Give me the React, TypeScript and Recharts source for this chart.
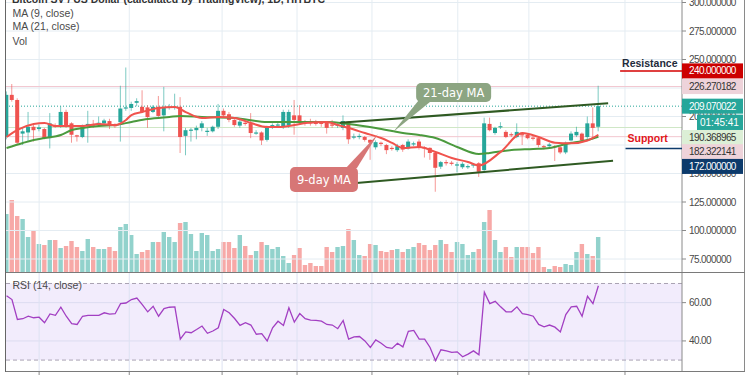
import React from "react";
import {
  ComposedChart,
  Bar,
  Line,
  XAxis,
  YAxis,
  ReferenceLine,
  ReferenceArea,
  ReferenceDot,
} from "recharts";

// BSV/USD daily candles
const opens = [
  182, 219, 214.5, 185, 186, 191, 189, 189, 181, 192.5, 191, 204, 194, 183.5, 182, 192.5, 193, 193, 194, 196,
  192.5, 195, 207, 207.5, 212, 208.5, 208, 204, 208.5, 201, 208, 207.5, 208.5, 183, 187.5, 188, 190, 186.5, 187, 191,
  205, 202, 197, 192, 194.5, 194, 185, 186, 179.5, 190, 192, 191, 192, 201, 201, 195, 195, 194.5, 194.5, 194.5,
  193, 192, 190, 195.5, 181.5, 182, 182, 179.5, 173, 177, 175, 172.5, 170.5, 175, 172, 175.5, 178, 173, 172.5, 168,
  156, 160, 159.5, 157, 155.5, 155.5, 157, 159, 153, 193.5, 185.5, 190.5, 186.5, 184.5, 182, 184.5, 184, 181.5, 181, 174,
  174, 174, 173, 168.5, 179, 183.5, 185, 182, 194, 191,
];
const highs = [
  222, 228.5, 216, 190, 204, 193, 193, 190, 203, 194, 209, 206, 195, 184, 193, 205, 197, 200, 198, 198,
  194, 227, 243, 213, 216, 223, 210, 210, 218, 226, 211, 220, 217, 190, 190, 192, 196, 190, 192, 211,
  207, 204, 198, 197, 196, 203, 188, 187, 192, 194, 195, 206, 206, 214.5, 210, 197, 198, 197, 196, 196,
  197, 194, 201, 196, 185, 185, 183, 180, 179, 178, 176, 174, 176, 176, 180, 178, 180, 174, 173, 169,
  161, 162, 161, 160, 160, 158, 159, 160, 199, 199, 191, 195, 188, 186, 194, 186, 185, 183, 182, 175,
  177, 175, 174, 178, 187, 191, 186, 200, 208, 227,
];
const lows = [
  180, 213, 175, 175, 178, 178, 187, 180, 172, 190, 190, 190, 177, 178, 181, 177, 190, 191, 192, 189,
  190, 178, 205, 205, 209, 203, 190, 203, 199, 187, 206, 206, 168, 166, 178, 180, 187, 183, 186, 189,
  199, 195, 191, 190, 192, 181, 184, 175, 178, 189, 191, 189, 190, 184, 193, 192, 192, 192, 191, 185,
  190, 190, 188, 176, 180, 180, 178, 162, 171, 174, 167, 170, 169, 169, 171, 174, 171, 164, 162, 134,
  154, 157, 157, 151, 154, 154, 155, 147, 151, 187, 184, 189, 181, 182, 181, 175, 180, 179, 173, 171,
  172, 161, 167, 167, 178, 182, 178, 180, 181, 187,
];
const closes = [
  219, 214.5, 177, 187, 191, 188, 190.5, 181, 194, 191, 204, 191, 184, 182.5, 192, 193.5, 192, 194.5, 196.5, 192.5,
  191.5, 207, 208, 211, 213.5, 204, 199.5, 208.5, 200.5, 208, 208.5, 208.5, 182, 188, 188.5, 190, 194, 187.5, 191, 205,
  201, 197, 192.5, 195.5, 193.5, 185.5, 186, 179, 190, 192.5, 193, 204, 204, 197, 195, 194, 194, 193.5, 193.5, 190,
  192, 193, 196, 180, 182.5, 183, 179.5, 177, 177.5, 176, 170.5, 171.5, 174, 171, 178, 176.5, 173, 172, 168, 155,
  160, 159, 158.5, 158, 158.5, 156.5, 158, 151.5, 194, 188, 190, 191.5, 182, 183.5, 186.5, 183.5, 181, 180.5, 175, 173,
  175.5, 173, 168.5, 177, 185, 186.5, 179, 194, 190, 209.07,
];
const volumes = [
  58, 72, 56, 53, 35, 42, 28, 27, 32, 32, 24, 26, 31, 25, 21, 33, 25, 23, 23, 25,
  21, 45, 48, 37, 18, 20, 22, 30, 30, 40, 35, 30, 49, 50, 38, 21, 39, 37, 21, 23,
  30, 30, 24, 37, 26, 17, 21, 30, 27, 23, 25, 16, 9, 17, 24, 7, 9, 6, 6, 25,
  20, 25, 26, 43, 32, 17, 16, 28, 27, 21, 20, 22, 23, 20, 23, 25, 29, 27, 22, 27,
  32, 28, 20, 30, 28, 17, 20, 23, 50, 62, 32, 20, 25, 15, 25, 25, 25, 19, 25, 5,
  3, 6, 5, 8, 7, 20, 28, 18, 16, 35,
];
const rsiValues = [
  63.6, 61.6, 51.2, 51.6, 52.9, 52.1, 52.4, 49.5, 54.1, 53.4, 57.6, 52.9, 49.0, 48.6, 52.9, 53.3, 53.3, 53.4, 54.7, 54.0,
  54.2, 59.5, 59.8, 61.6, 62.4, 59.0, 55.2, 58.1, 52.9, 56.9, 57.6, 57.8, 40.9, 44.7, 44.3, 46.0, 47.8, 44.0, 45.2, 46.9,
  56.4, 54.7, 51.7, 48.1, 49.5, 48.3, 43.5, 43.8, 40.0, 46.9, 50.3, 48.1, 57.3, 49.8, 54.3, 51.6, 50.9, 50.7, 50.3, 48.6,
  48.3, 46.4, 50.7, 40.9, 42.1, 42.3, 40.0, 36.6, 40.5, 38.8, 36.6, 36.1, 38.8, 36.9, 45.0, 45.5, 40.9, 40.9, 36.6, 29.7,
  35.4, 34.8, 34.0, 34.3, 31.7, 33.1, 34.8, 32.8, 65.5, 59.5, 60.7, 57.8, 55.2, 55.2, 57.8, 54.3, 53.8, 52.9, 48.6, 47.4,
  48.3, 47.2, 44.7, 53.8, 57.8, 58.1, 52.9, 63.3, 59.5, 68.8,
];
// moving averages, [candle index, value] where read
const ma9Points = [
  [0, 182], [2, 188.2], [5, 193.4], [7, 194.3], [9, 191.7], [11, 191.7], [14, 191.7], [17, 193.4], [20, 192.5],
  [22, 196.9], [23, 201.3], [25, 203.9], [28, 207.5], [31, 208.3], [33, 203.9], [36, 198.7], [39, 199.6], [42, 198.7],
  [45, 194.3], [48, 190.8], [50, 190.8], [53, 192.5], [55, 194.3], [59, 195.2], [61, 192.5], [63, 189.9], [66, 185.5],
  [69, 181.1], [71, 176.8], [73, 172.4], [76, 173.3], [79, 168.9], [82, 163.6], [85, 160.1], [87, 157], [91, 169],
  [95, 185.5], [98, 182], [101, 177], [104, 176.5], [107, 179], [109, 184],
];
const ma21Points = [
  [0, 172.4], [3, 176.8], [5, 179.4], [7, 181.1], [10, 183.8], [12, 188.2], [14, 189.9], [17, 191.7], [20, 192.5],
  [23, 195.2], [26, 197.8], [30, 199.6], [32, 200.4], [36, 199.6], [42, 198.7], [48, 195.2], [53, 195.2], [59, 195.2],
  [63, 193.4], [68, 189.9], [71, 187.3], [73, 185.5], [76, 183.8], [79, 181.1], [83, 173.3], [87, 167.1], [89, 168],
  [93, 170.6], [97, 171.5], [100, 172.4], [103, 175.9], [107, 179.4], [109, 182.3],
];

const priceTicks = [75, 100, 125, 150, 175, 200, 225, 250, 275, 300];
const rsiTicks = [40, 60];
const timeTicks = [6, 22.6, 39.7, 53.5, 67.3, 83.1, 96.2, 113.9];

const levels = [226.270182, 209.070022, 190.368965, 182.322141];
const priceTags = [
  { value: 240, bg: "#cc0000", fg: "#ffffff", shift: 0 },
  { value: 226.270182, bg: "#eed3da", fg: "#333333", shift: 0 },
  { value: 209.070022, bg: "#26a69a", fg: "#ffffff", shift: 0, timer: "01:45:41" },
  { value: 190.368965, bg: "#dcefd6", fg: "#333333", shift: 10 },
  { value: 182.322141, bg: "#eed3da", fg: "#333333", shift: 15 },
  { value: 172, bg: "#0c3a6b", fg: "#ffffff", shift: 18 },
];

const TEAL = "#26a69a";
const RED = "#ef5350";
const GRID = "#e4ecf2";
const AXIS = "#8a8a8a";
const TREND = "#2f5a22";
const FONT = "'Liberation Sans', Arial, sans-serif";

const X_DOMAIN = [-0.1, 124.4];
const P_DOMAIN = [63.6, 302.2];
const R_DOMAIN = [24.3, 76];

const rows = opens.map((o, i) => ({
  i,
  o,
  h: highs[i],
  l: lows[i],
  c: closes[i],
  vol: volumes[i],
  rsi: rsiValues[i],
  ma9: null as number | null,
  ma21: null as number | null,
}));
ma9Points.forEach(([i, v]) => (rows[i].ma9 = v));
ma21Points.forEach(([i, v]) => (rows[i].ma21 = v));

const Candle = (props: any) => {
  const { x, y, width, height, payload } = props;
  const { o, h, l, c } = payload;
  const top = Math.min(y, y + height);
  const span = Math.abs(height);
  const py = (v: number) => (h === l ? top : top + ((h - v) / (h - l)) * span);
  const cx = x + width / 2;
  const col = c >= o ? TEAL : RED;
  const bTop = py(Math.max(o, c));
  const bBot = py(Math.min(o, c));
  return (
    <g>
      <line x1={cx} x2={cx} y1={top} y2={top + span} stroke={col} strokeOpacity={0.6} />
      <rect x={cx - 2} y={bTop} width={4} height={Math.max(1.2, bBot - bTop)} fill={col} />
    </g>
  );
};

const VolBar = (props: any) => {
  const { x, y, width, height, payload } = props;
  const cx = x + width / 2;
  return (
    <rect
      x={cx - 2.2}
      y={y}
      width={4.4}
      height={height}
      fill={payload.c >= payload.o ? TEAL : RED}
      fillOpacity={0.5}
    />
  );
};

const AxisTick = ({ x, y, payload, digits }: any) => (
  <text x={x} y={y + 3.5} fontSize={10} fill="#4a4a4a" fontFamily={FONT} letterSpacing={-0.6} textAnchor="start">
    {payload.value.toFixed(digits)}
  </text>
);

const PriceTag = ({ viewBox, tag }: any) => {
  if (!viewBox) return null;
  const x = viewBox.x + viewBox.width;
  const cy = viewBox.y + tag.shift;
  return (
    <g>
      <rect x={x} y={cy - 7.5} width={61} height={15} fill={tag.bg} />
      <text x={x + 7} y={cy + 3.5} fontSize={10} fill={tag.fg} fontFamily={FONT} letterSpacing={-0.6}>
        {tag.value.toFixed(6)}
      </text>
      {tag.timer && (
        <g>
          <rect x={x + 15} y={cy + 8.5} width={46} height={16} fill={tag.bg} />
          <text x={x + 18} y={cy + 20} fontSize={10} fill={tag.fg} fontFamily={FONT}>
            {tag.timer}
          </text>
        </g>
      )}
    </g>
  );
};

const callouts = [
  { text: "21-day MA", at: [71.2, 186.4], fill: "#8ca582", box: [23, -49, 75, 19], base: [25, 38] },
  { text: "9-day MA", at: [68.4, 184.6], fill: "#d77676", box: [-88, 33, 68, 25], base: [-32, -21] },
];

const CalloutShape = ({ cx, cy, c }: any) => {
  if (cx == null) return null;
  const [dx, dy, w, h] = c.box;
  const edge = dy < 0 ? cy + dy + h - 1 : cy + dy + 1;
  return (
    <g>
      <polygon points={`${cx},${cy} ${cx + c.base[0]},${edge} ${cx + c.base[1]},${edge}`} fill={c.fill} />
      <rect x={cx + dx} y={cy + dy} width={w} height={h} rx={5} fill={c.fill} />
      <text
        x={cx + dx + w / 2}
        y={cy + dy + h / 2 + 4}
        textAnchor="middle"
        fontSize={11.5}
        fill="#ffffff"
        fontFamily="'DejaVu Sans', sans-serif"
      >
        {c.text}
      </text>
    </g>
  );
};

const LevelText = ({ viewBox, text, color, gap }: any) =>
  viewBox ? (
    <text x={viewBox.x + 2} y={viewBox.y - gap} fontSize={10.5} fontWeight="bold" fill={color} fontFamily={FONT}>
      {text}
    </text>
  ) : null;

export default function App() {
  return (
    <div
      style={{
        position: "absolute",
        left: 0,
        top: 0,
        width: 750,
        height: 375,
        overflow: "hidden",
        background: "#fff",
        fontFamily: FONT,
      }}
    >
      {/* grid, levels, volume */}
      <div style={{ position: "absolute", left: 0, top: 0 }}>
        <ComposedChart width={745} height={272} data={rows} margin={{ top: 0, right: 63, left: 6, bottom: 0 }}>
          <XAxis dataKey="i" type="number" domain={X_DOMAIN} hide allowDataOverflow />
          <YAxis domain={P_DOMAIN} hide allowDataOverflow />
          <YAxis yAxisId="v" domain={[0, 272]} hide allowDataOverflow />
          {priceTicks.map((t) => (
            <ReferenceLine key={"p" + t} y={t} stroke={GRID} />
          ))}
          {timeTicks.map((t) => (
            <ReferenceLine key={"t" + t} x={t} stroke={GRID} />
          ))}
          <ReferenceLine y={levels[0]} stroke="#f2c6cf" />
          <ReferenceLine y={levels[2]} stroke="#cfe7c6" />
          <ReferenceLine y={levels[3]} stroke="#f2c6cf" />
          <ReferenceLine y={levels[1]} stroke={TEAL} strokeDasharray="1 2" />
          <Bar yAxisId="v" dataKey="vol" barSize={5} shape={<VolBar />} isAnimationActive={false} />
        </ComposedChart>
      </div>

      {/* candles, moving averages, price axis */}
      <div style={{ position: "absolute", left: 0, top: 0 }}>
        <ComposedChart width={745} height={272} data={rows} margin={{ top: 0, right: 0, left: 6, bottom: 0 }}>
          <XAxis dataKey="i" type="number" domain={X_DOMAIN} hide allowDataOverflow />
          <YAxis
            orientation="right"
            width={63}
            domain={P_DOMAIN}
            ticks={priceTicks}
            interval={0}
            allowDataOverflow
            axisLine={{ stroke: AXIS }}
            tickLine={{ stroke: AXIS }}
            tickSize={4}
            tickMargin={3}
            tick={<AxisTick digits={6} />}
          />
          <Bar dataKey={(d: any) => [d.l, d.h]} barSize={5} shape={<Candle />} isAnimationActive={false} />
          <Line dataKey="ma21" type="monotone" stroke="#4b9a3e" strokeWidth={2} dot={false} connectNulls isAnimationActive={false} />
          <Line dataKey="ma9" type="monotone" stroke="#f0534d" strokeWidth={2} dot={false} connectNulls isAnimationActive={false} />
        </ComposedChart>
      </div>

      {/* annotations */}
      <div style={{ position: "absolute", left: 0, top: 0 }}>
        <ComposedChart width={745} height={272} data={rows} margin={{ top: 0, right: 63, left: 6, bottom: 0 }}>
          <XAxis dataKey="i" type="number" domain={X_DOMAIN} hide allowDataOverflow />
          <YAxis domain={P_DOMAIN} hide allowDataOverflow />
          {callouts.map((c) => (
            <ReferenceDot
              key={c.text}
              x={c.at[0]}
              y={c.at[1]}
              r={0}
              ifOverflow="visible"
              shape={(p: any) => <CalloutShape {...p} c={c} />}
            />
          ))}
          <ReferenceLine
            segment={[{ x: 61.4, y: 194.6 }, { x: 110.8, y: 211.6 }]}
            stroke={TREND}
            strokeWidth={2}
            ifOverflow="visible"
          />
          <ReferenceLine
            segment={[{ x: 62.3, y: 140.8 }, { x: 111.7, y: 161.2 }]}
            stroke={TREND}
            strokeWidth={2}
            ifOverflow="visible"
          />
          <ReferenceLine
            segment={[{ x: 113, y: 240 }, { x: 124.4, y: 240 }]}
            stroke="#d40000"
            strokeWidth={1.5}
            ifOverflow="visible"
            label={(p: any) => <LevelText viewBox={p.viewBox} text="Resistance" color="#1f2b3b" gap={3.5} />}
          />
          <ReferenceLine
            segment={[{ x: 114, y: 172 }, { x: 124.4, y: 172 }]}
            stroke="#0c3a6b"
            strokeWidth={1.5}
            ifOverflow="visible"
            label={(p: any) => <LevelText viewBox={p.viewBox} text="Support" color="#e0161b" gap={6} />}
          />
          {priceTags.map((t) => (
            <ReferenceLine
              key={t.value}
              y={t.value}
              stroke="none"
              label={(p: any) => <PriceTag viewBox={p.viewBox} tag={t} />}
            />
          ))}
        </ComposedChart>
      </div>

      {/* RSI pane */}
      <div style={{ position: "absolute", left: 0, top: 272 }}>
        <ComposedChart width={745} height={130} data={rows} margin={{ top: 0, right: 0, left: 6, bottom: 0 }}>
          <XAxis
            dataKey="i"
            type="number"
            domain={X_DOMAIN}
            ticks={timeTicks}
            interval={0}
            allowDataOverflow
            height={31}
            axisLine={false}
            tickLine={{ stroke: AXIS }}
            tickSize={4}
            tick={() => <g />}
          />
          <YAxis
            orientation="right"
            width={63}
            domain={R_DOMAIN}
            ticks={rsiTicks}
            interval={0}
            allowDataOverflow
            axisLine={{ stroke: AXIS }}
            tickLine={{ stroke: AXIS }}
            tickSize={4}
            tickMargin={3}
            tick={<AxisTick digits={2} />}
          />
          <ReferenceArea y1={30} y2={70} fill="rgb(140, 80, 230)" fillOpacity={0.11} stroke="none" />
          {rsiTicks.map((t) => (
            <ReferenceLine key={"r" + t} y={t} stroke="#dcdcf0" />
          ))}
          {timeTicks.map((t) => (
            <ReferenceLine key={"rt" + t} x={t} stroke="#dde2f2" />
          ))}
          <ReferenceLine y={70} stroke="#a9a2b3" strokeDasharray="4 3" />
          <ReferenceLine y={30} stroke="#a9a2b3" strokeDasharray="4 3" />
          <Line dataKey="rsi" stroke="#a23fc2" strokeWidth={1.3} dot={false} isAnimationActive={false} />
        </ComposedChart>
      </div>

      {/* frame and legend texts */}
      <svg width={750} height={375} style={{ position: "absolute", left: 0, top: 0, pointerEvents: "none" }}>
        <line x1={5.5} x2={5.5} y1={0} y2={372} stroke="#666" />
        <line x1={744.5} x2={744.5} y1={0} y2={372} stroke={AXIS} />
        <line x1={6} x2={745} y1={272.5} y2={272.5} stroke="#7a7a7a" />
        <line x1={6} x2={745} y1={371.5} y2={371.5} stroke="#7a7a7a" />
        <text x={12} y={2.5} fontSize={10.5} fontWeight="bold" fill="#333">
          Bitcoin SV / US Dollar (calculated by TradingView), 1D, HITBTC
        </text>
        <text x={12.5} y={17} fontSize={10.5} fill="#4a4a4a">
          MA (9, close)
        </text>
        <text x={12.5} y={29.5} fontSize={10.5} fill="#4a4a4a">
          MA (21, close)
        </text>
        <text x={12.5} y={44.5} fontSize={10.5} fill="#4a4a4a">
          Vol
        </text>
        <text x={12.5} y={289} fontSize={10.5} fill="#4a4a4a">
          RSI (14, close)
        </text>
      </svg>
    </div>
  );
}
